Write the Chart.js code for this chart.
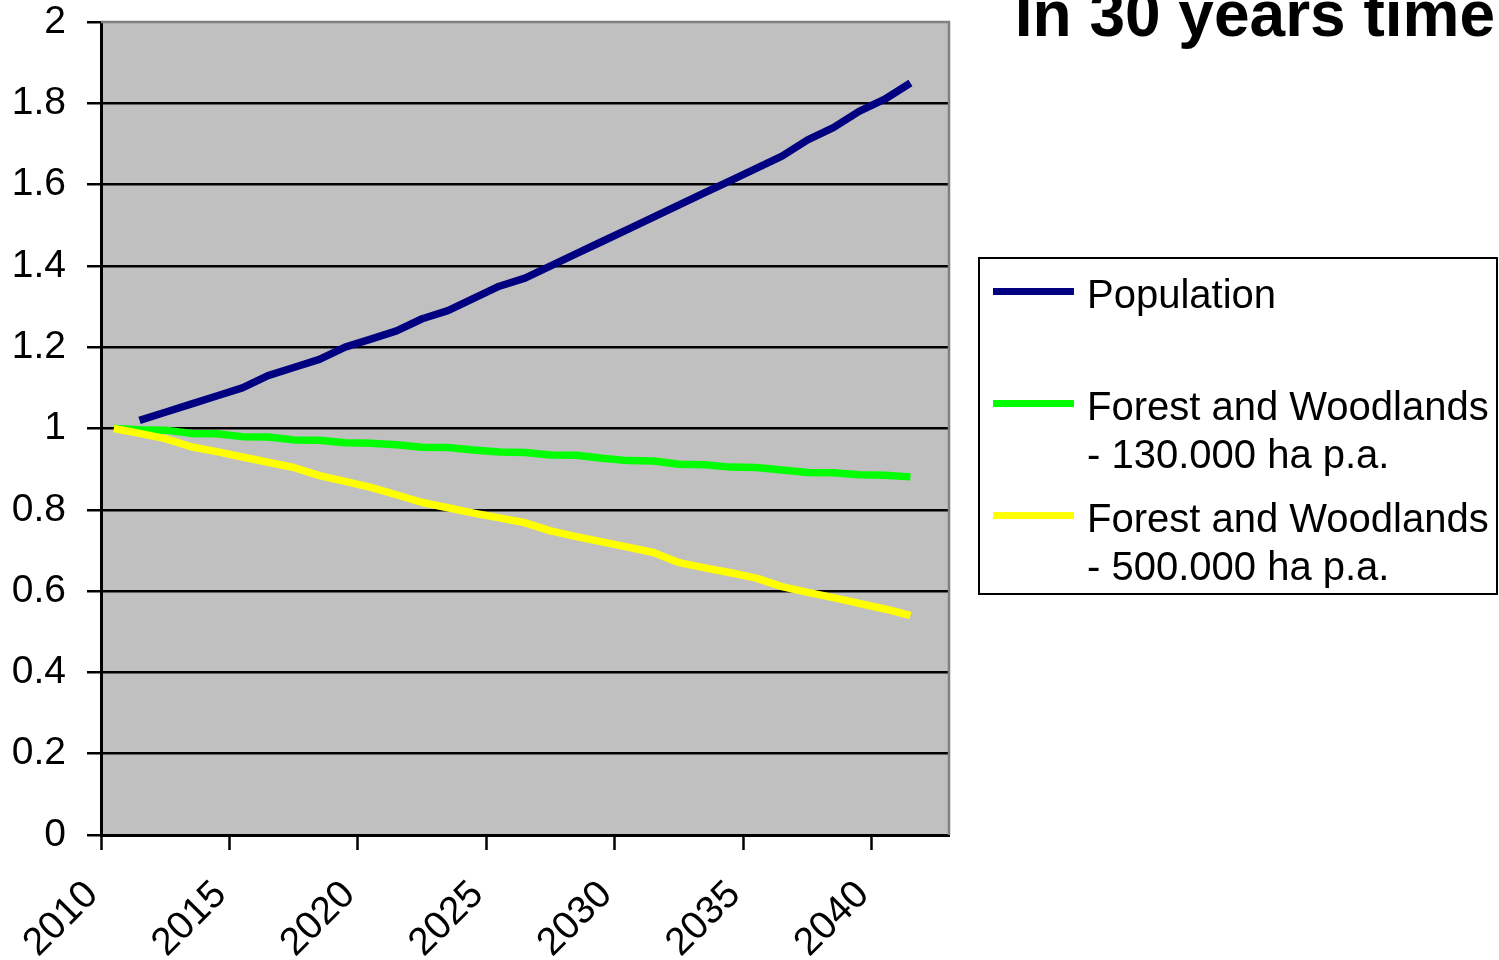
<!DOCTYPE html>
<html>
<head>
<meta charset="utf-8">
<script src="https://cdn.jsdelivr.net/npm/chart.js@4/dist/chart.umd.min.js"></script>
<style>
  html, body { margin: 0; padding: 0; background: #ffffff; }
  #wrap { width: 1499px; height: 960px; position: relative; overflow: hidden; }
</style>
</head>
<body>
<div id="wrap"><canvas id="chart" width="1499" height="960"></canvas></div>
<script>
// Years shown on the horizontal axis (one slot per year)
const years = [2010, 2011, 2012, 2013, 2014, 2015, 2016, 2017, 2018, 2019,
               2020, 2021, 2022, 2023, 2024, 2025, 2026, 2027, 2028, 2029,
               2030, 2031, 2032, 2033, 2034, 2035, 2036, 2037, 2038, 2039,
               2040, 2041];

// Index values relative to 2010 (= 1)
const population = [null, 1.02, 1.04, 1.06, 1.08, 1.10, 1.13, 1.15, 1.17, 1.20,
                     1.22, 1.24, 1.27, 1.29, 1.32, 1.35, 1.37, 1.40, 1.43, 1.46,
                     1.49, 1.52, 1.55, 1.58, 1.61, 1.64, 1.67, 1.71, 1.74, 1.78,
                     1.81, 1.85];

const forest130 = [1.000, 0.997, 0.996, 0.988, 0.987, 0.980, 0.979, 0.972, 0.971, 0.965,
                   0.964, 0.960, 0.954, 0.953, 0.947, 0.942, 0.941, 0.935, 0.934, 0.927,
                   0.921, 0.920, 0.912, 0.911, 0.905, 0.904, 0.898, 0.892, 0.891, 0.886,
                   0.885, 0.881];

const forest500 = [1.000, 0.988, 0.975, 0.955, 0.943, 0.930, 0.917, 0.904, 0.884, 0.870,
                   0.855, 0.837, 0.818, 0.805, 0.792, 0.780, 0.768, 0.748, 0.734, 0.721,
                   0.708, 0.695, 0.670, 0.657, 0.645, 0.632, 0.611, 0.597, 0.584, 0.570,
                   0.556, 0.540];

const xTickLabels = ['2010', '2015', '2020', '2025', '2030', '2035', '2040'];
const yTickValues = [0, 0.2, 0.4, 0.6, 0.8, 1, 1.2, 1.4, 1.6, 1.8, 2];

const seriesNames = [
  ['Population'],
  ['Forest and Woodlands', '- 130.000 ha p.a.'],
  ['Forest and Woodlands', '- 500.000 ha p.a.']
];
const seriesColors = ['#000080', '#00ff00', '#ffff00'];
const titleText = 'In 30 years time';

const FONT = "'Liberation Sans', Arial, 'DejaVu Sans', sans-serif";

// Each year sits in the middle of its own slot on the axis
function toPoints(values) {
  return values.map((v, i) => ({ x: years[i] + 0.5, y: v }));
}

// Grey plot area, its grey top/right frame, the title and the boxed legend
const decorations = {
  id: 'decorations',
  beforeDraw(chart) {
    const { ctx, chartArea: a } = chart;
    ctx.save();
    ctx.fillStyle = '#c0c0c0';
    ctx.fillRect(a.left, a.top, a.right - a.left, a.bottom - a.top);
    ctx.restore();
  },
  beforeDatasetsDraw(chart) {
    const { ctx, chartArea: a } = chart;
    ctx.save();
    ctx.strokeStyle = '#808080';
    ctx.lineWidth = 2.5;
    ctx.beginPath();
    ctx.moveTo(a.left, a.top);
    ctx.lineTo(a.right, a.top);
    ctx.lineTo(a.right, a.bottom);
    ctx.stroke();
    ctx.restore();
  },
  afterDraw(chart) {
    const { ctx } = chart;
    ctx.save();
    // title
    ctx.fillStyle = '#000000';
    ctx.font = 'bold 64px ' + FONT;
    ctx.textAlign = 'right';
    ctx.textBaseline = 'alphabetic';
    ctx.fillText(titleText, 1495, 36);

    // legend box
    const box = { x: 979, y: 258, w: 518, h: 336 };
    ctx.fillStyle = '#ffffff';
    ctx.fillRect(box.x, box.y, box.w, box.h);
    ctx.strokeStyle = '#000000';
    ctx.lineWidth = 2;
    ctx.strokeRect(box.x, box.y, box.w, box.h);

    const sampleY = [291.5, 403.5, 515.5];
    const firstBaseline = [308, 420, 532];
    ctx.font = '40px ' + FONT;
    ctx.textAlign = 'left';
    seriesNames.forEach((lines, k) => {
      ctx.strokeStyle = seriesColors[k];
      ctx.lineWidth = 7;
      ctx.lineCap = 'butt';
      ctx.beginPath();
      ctx.moveTo(993, sampleY[k]);
      ctx.lineTo(1074, sampleY[k]);
      ctx.stroke();
      ctx.fillStyle = '#000000';
      lines.forEach((t, j) => ctx.fillText(t, 1087, firstBaseline[k] + j * 48));
    });
    ctx.restore();
  }
};

const makeSet = (label, values, color, order) => ({
  label,
  data: toPoints(values),
  borderColor: color,
  backgroundColor: color,
  borderWidth: 7.5,
  pointRadius: 0,
  tension: 0,
  fill: false,
  borderCapStyle: 'butt',
  borderJoinStyle: 'round',
  order
});

new Chart(document.getElementById('chart'), {
  type: 'line',
  data: {
    datasets: [
      makeSet(seriesNames[0].join(' '), population, seriesColors[0], 2),
      makeSet(seriesNames[1].join(' '), forest130, seriesColors[1], 1),
      makeSet(seriesNames[2].join(' '), forest500, seriesColors[2], 0)
    ]
  },
  options: {
    responsive: false,
    animation: false,
    devicePixelRatio: 1,
    layout: { padding: { left: 0, top: 22, right: 550, bottom: 0 } },
    plugins: {
      legend: { display: false },
      tooltip: { enabled: false },
      title: { display: false }
    },
    scales: {
      x: {
        type: 'linear',
        min: 2010,
        max: 2043,
        afterBuildTicks(scale) {
          scale.ticks = xTickLabels.map(v => ({ value: Number(v) }));
        },
        afterFit(scale) {
          scale.height = 125;
          scale.paddingLeft = 0;
          scale.paddingRight = 0;
        },
        ticks: {
          autoSkip: false,
          minRotation: 45,
          maxRotation: 45,
          padding: 22,
          labelOffset: -9,
          color: '#000000',
          font: { family: FONT, size: 39 },
          callback: v => String(v)
        },
        grid: {
          drawOnChartArea: false,
          drawTicks: true,
          tickLength: 15,
          tickColor: '#000000',
          tickWidth: 2.5
        },
        border: { display: true, color: '#000000', width: 3 }
      },
      y: {
        type: 'linear',
        min: 0,
        max: 2,
        afterBuildTicks(scale) {
          scale.ticks = yTickValues.map(v => ({ value: v }));
        },
        afterFit(scale) {
          scale.width = 101;
          scale.paddingTop = 0;
          scale.paddingBottom = 0;
        },
        ticks: {
          padding: 21,
          color: '#000000',
          font: { family: FONT, size: 39 },
          callback: v => String(Number(v.toFixed(1)))
        },
        grid: {
          drawTicks: true,
          tickLength: 14,
          color: ctx => (ctx.tick && ctx.tick.value === 2 ? 'rgba(0,0,0,0)' : '#000000'),
          lineWidth: 2.5,
          tickColor: '#000000',
          tickWidth: 2.5
        },
        border: { display: true, color: '#000000', width: 3 }
      }
    }
  },
  plugins: [decorations]
});
</script>
</body>
</html>
